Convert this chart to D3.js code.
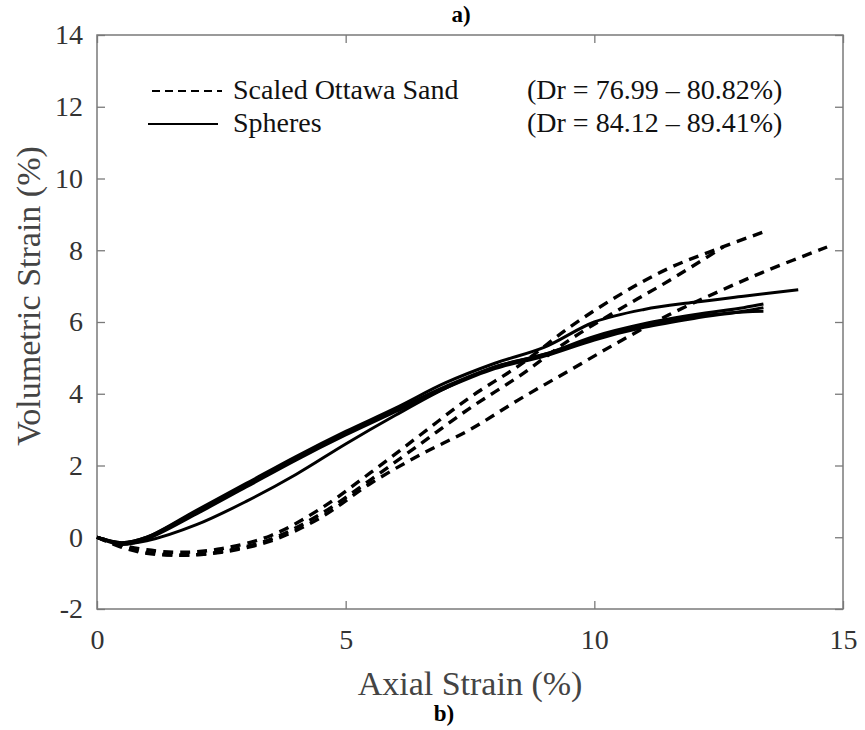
<!DOCTYPE html>
<html>
<head>
<meta charset="utf-8">
<script src="https://cdn.jsdelivr.net/npm/d3@7"></script>
<style>
  body { margin: 0; background: #fff; }
  text { font-family: "Liberation Serif", "Times New Roman", serif; }
</style>
</head>
<body>
<div id="chart"></div>
<script>
// tick values
const xTicks = [0, 5, 10, 15];
const yTicks = [-2, 0, 2, 4, 6, 8, 10, 12, 14];

// Scaled Ottawa Sand tests (dashed) - [axial, volumetric]
const sand1 = [[0,0],[0.5,-0.22],[1,-0.35],[1.7,-0.42],[2.5,-0.32],[3.5,0.05],[4.5,0.8],[5.5,1.8],[6.5,2.85],[7.5,3.9],[8.5,4.8],[9.5,5.85],[10.5,6.75],[11.5,7.5],[12.5,8.05],[13.5,8.56]];
const sand2 = [[0,0],[0.5,-0.25],[1,-0.42],[1.7,-0.5],[2.5,-0.4],[3.5,-0.05],[4.5,0.65],[5.5,1.6],[6.5,2.6],[7.5,3.6],[8.5,4.5],[9.5,5.5],[10.5,6.35],[11.5,7.15],[12.6,8.1]];
const sand3 = [[0,0],[0.5,-0.28],[1,-0.45],[1.7,-0.5],[2.5,-0.42],[3.5,-0.1],[4.5,0.55],[5.5,1.5],[6.5,2.3],[7.5,3.0],[8.5,3.85],[9.5,4.65],[10.5,5.45],[11.5,6.2],[12.5,6.85],[13.5,7.45],[14.68,8.09]];

// Spheres tests (solid)
const sph1 = [[0,0],[0.5,-0.15],[1,0],[2,0.75],[3,1.5],[4,2.25],[5,2.95],[6,3.6],[7,4.3],[8,4.85],[9,5.3],[10,6.0],[11,6.35],[12,6.55],[13,6.72],[14.1,6.9]];
const sph2 = [[0,0],[0.5,-0.15],[1,0],[2,0.72],[3,1.45],[4,2.2],[5,2.9],[6,3.55],[7,4.2],[8,4.75],[9,5.1],[10,5.6],[11,5.95],[12,6.2],[13,6.4],[13.4,6.5]];
const sph3 = [[0,0],[0.5,-0.18],[1,-0.1],[2,0.35],[3,1.0],[4,1.75],[5,2.6],[6,3.4],[7,4.15],[8,4.75],[9,5.1],[10,5.55],[11,5.9],[12,6.15],[13,6.28],[13.4,6.3]];
const sph4 = [[0,0],[0.5,-0.2],[1,-0.05],[2,0.65],[3,1.4],[4,2.15],[5,2.85],[6,3.5],[7,4.15],[8,4.7],[9,5.05],[10,5.5],[11,5.85],[12,6.1],[13,6.3],[13.4,6.4]];

const sandRuns = [sand1, sand2, sand3];
const sphereRuns = [sph1, sph2, sph3, sph4];

const W = 865, H = 730;
const margin = {top: 35, right: 22, bottom: 121, left: 97},
      width = W - margin.left - margin.right,
      height = H - margin.top - margin.bottom;

const root = d3.select("#chart").append("svg")
    .attr("width", W)
    .attr("height", H);

const svg = root.append("g")
    .attr("transform", `translate(${margin.left},${margin.top})`);

const x = d3.scaleLinear().domain([0, 15]).range([0, width]);
const y = d3.scaleLinear().domain([-2, 14]).range([height, 0]);

const axisColor = "#7a7a7a";
const textColor = "#333";

// axes with inward ticks
const styleAxis = g => {
    g.select(".domain").remove();
    g.selectAll(".tick line").attr("stroke", axisColor).attr("stroke-width", 1.3);
    g.selectAll(".tick text")
     .attr("fill", textColor)
     .style("font-family", "'Liberation Serif', serif")
     .style("font-size", "28px");
};

svg.append("g")
   .attr("transform", `translate(0,${height})`)
   .call(d3.axisBottom(x).tickValues(xTicks).tickSize(-8).tickPadding(20).tickFormat(d => String(d)))
   .call(styleAxis);

svg.append("g")
   .call(d3.axisTop(x).tickValues(xTicks).tickSize(-8).tickFormat(""))
   .call(styleAxis);

svg.append("g")
   .call(d3.axisLeft(y).tickValues(yTicks).tickSize(-8).tickPadding(14).tickFormat(d => String(d)))
   .call(styleAxis);

svg.append("g")
   .attr("transform", `translate(${width},0)`)
   .call(d3.axisRight(y).tickValues(yTicks).tickSize(-8).tickFormat(""))
   .call(styleAxis);

// box
svg.append("rect")
   .attr("x", 0).attr("y", 0)
   .attr("width", width).attr("height", height)
   .attr("fill", "none")
   .attr("stroke", axisColor)
   .attr("stroke-width", 1.5);

// curves
const line = d3.line()
    .x(d => x(d[0]))
    .y(d => y(d[1]))
    .curve(d3.curveCatmullRom);

svg.selectAll("path.sand")
   .data(sandRuns)
   .enter()
   .append("path")
   .attr("class", "sand")
   .attr("d", line)
   .attr("fill", "none")
   .attr("stroke", "#000")
   .attr("stroke-width", 3.4)
   .attr("stroke-dasharray", "10,7");

svg.selectAll("path.sphere")
   .data(sphereRuns)
   .enter()
   .append("path")
   .attr("class", "sphere")
   .attr("d", line)
   .attr("fill", "none")
   .attr("stroke", "#000")
   .attr("stroke-width", 3);

// legend
const legend = root.append("g");
const legendItems = [
    {label: "Scaled Ottawa Sand", range: "(Dr = 76.99 \u2013 80.82%)", dash: "8,5", x1: 152, x2: 222, y: 91},
    {label: "Spheres", range: "(Dr = 84.12 \u2013 89.41%)", dash: null, x1: 148, x2: 218, y: 124}
];
legendItems.forEach(item => {
    legend.append("line")
          .attr("x1", item.x1).attr("x2", item.x2)
          .attr("y1", item.y).attr("y2", item.y)
          .attr("stroke", "#000")
          .attr("stroke-width", 2)
          .attr("stroke-dasharray", item.dash);
    legend.append("text")
          .attr("x", 233)
          .attr("y", item.y + 8)
          .attr("font-size", 28)
          .attr("fill", "#111")
          .text(item.label);
    legend.append("text")
          .attr("x", 527)
          .attr("y", item.y + 8)
          .attr("font-size", 28)
          .attr("fill", "#111")
          .text(item.range);
});

// axis titles
root.append("text")
    .attr("x", margin.left + width / 2)
    .attr("y", 695)
    .attr("text-anchor", "middle")
    .attr("font-size", 34)
    .attr("fill", "#444")
    .text("Axial Strain (%)");

root.append("text")
    .attr("transform", "translate(40,296) rotate(-90)")
    .attr("text-anchor", "middle")
    .attr("font-size", 34)
    .attr("fill", "#444")
    .text("Volumetric Strain (%)");

// panel tags
root.append("text")
    .attr("x", 461).attr("y", 22)
    .attr("text-anchor", "middle")
    .attr("font-size", 23)
    .attr("font-weight", "bold")
    .text("a)");

root.append("text")
    .attr("x", 444).attr("y", 721)
    .attr("text-anchor", "middle")
    .attr("font-size", 23)
    .attr("font-weight", "bold")
    .text("b)");
</script>
</body>
</html>
